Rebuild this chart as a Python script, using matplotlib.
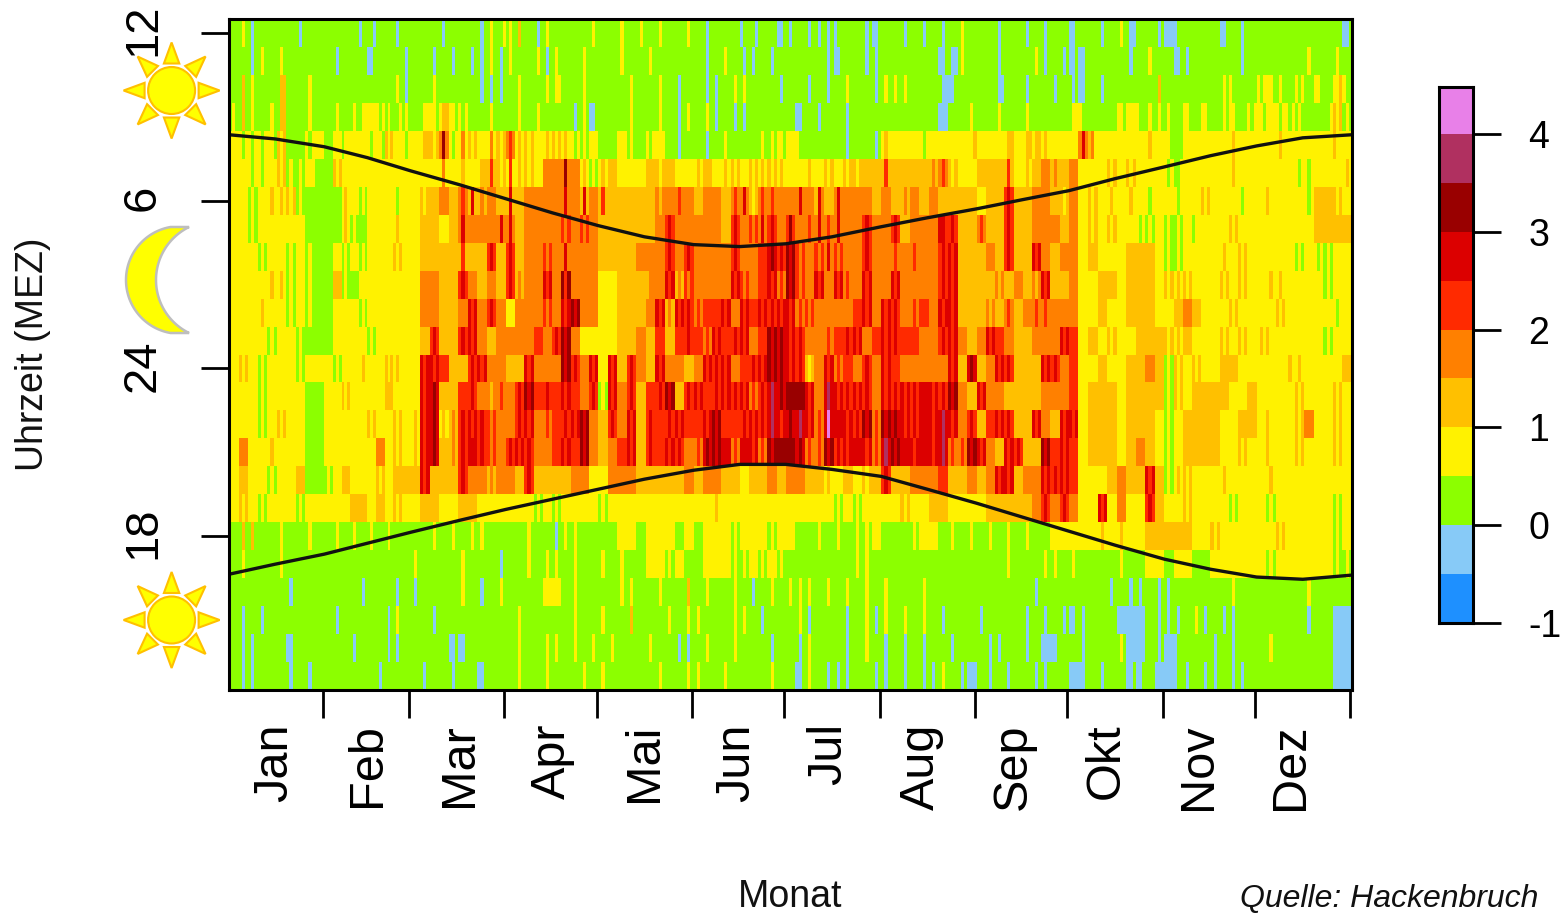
import matplotlib
matplotlib.use('Agg')
import matplotlib.pyplot as plt
import numpy as np
from matplotlib.colors import ListedColormap, BoundaryNorm
from matplotlib.patches import Circle, Polygon
from matplotlib.transforms import ScaledTranslation

plt.rcParams['font.family'] = ['Liberation Sans', 'DejaVu Sans']

monate = ['Jan', 'Feb', 'Mar', 'Apr', 'Mai', 'Jun', 'Jul', 'Aug', 'Sep', 'Okt', 'Nov', 'Dez']
monatstage = [31, 28, 31, 30, 31, 30, 31, 31, 30, 31, 30, 31]
monat_label_tag = [15, 45, 75, 105, 135, 165, 195, 225, 255, 285, 315, 345]

farben = ['#1E90FF', '#87CAF7', '#8CFF00', '#FFF200', '#FFC000', '#FF8000',
          '#FF2A00', '#DC0000', '#990000', '#B03060', '#E880E8']
stufen = [-1, -0.5, 0, 0.5, 1, 1.5, 2, 2.5, 3, 3.5, 4, 4.5]
cb_ticks = [-1, 0, 1, 2, 3, 4]

stunden_ticks = [0, 6, 12, 18]
stunden_labels = ['12', '6', '24', '18']

# je Zeile (von 12 Uhr abwaerts) 12 Monate mit je 30 Tageswerten, Ziffer = Farbstufe
klassen = [
    "222 232 212 222 222 222 222 212 222 222|222 222 222 222 122 221 222 222 212 222|222 222 222 212 222 222 222 212 232 223|232 242 222 212 232 222 222 222 222 232|222 222 232 222 232 222 232 222 222 232|222 212 222 222 222 122 221 222 222 112|212 222 212 212 212 122 222 222 212 112|222 222 212 222 212 222 212 222 232 222|222 222 212 222 222 212 222 212 222 222|112 222 222 212 222 232 211 222 222 212|111 122 222 222 222 222 112 222 212 222|222 222 222 222 222 222 222 222 222 112",  # 12
    "222 222 212 232 222 232 222 222 222 222|222 212 222 222 222 112 222 222 222 212|222 222 212 222 212 222 212 212 232 212|232 222 222 232 212 232 222 222 232 222|222 222 232 222 222 232 222 222 222 222|222 212 222 232 222 212 212 222 212 222|222 222 222 222 212 112 222 222 212 212|222 222 222 222 222 222 112 211 232 222|222 222 212 222 222 222 232 212 222 212|112 112 222 222 222 222 212 222 232 222|222 112 212 222 222 222 222 222 212 222|222 222 222 222 222 232 222 222 232 222",  # 11
    "222 242 232 222 222 244 222 222 232 222|222 222 222 222 222 222 222 222 232 212|222 222 232 222 222 222 222 212 212 212|222 232 222 222 232 233 222 222 232 222|222 222 222 232 222 222 232 222 212 222|222 212 212 222 232 232 222 222 222 212|222 222 212 222 212 222 232 222 222 212|232 232 232 222 222 222 211 112 222 222|222 222 211 222 222 212 222 222 212 222|212 112 222 212 222 222 222 222 222 242|222 222 222 222 222 222 232 322 222 222|323 332 232 222 323 222 332 222 334 322",  # 10
    "232 242 232 222 232 244 222 222 232 222|222 232 222 232 233 333 323 232 223 232|222 233 332 344 332 323 222 222 232 222|222 232 222 232 222 222 222 212 232 112|222 222 222 232 222 222 232 222 212 232|222 232 212 222 212 212 222 222 222 222|222 112 222 212 222 222 212 222 222 222|222 222 222 222 222 222 111 222 222 232|222 222 232 222 222 232 222 222 222 222|233 322 222 222 222 332 333 322 232 232|232 222 332 222 332 222 232 332 222 323|332 333 323 323 232 222 222 223 434 232",  # 9
    "333 323 323 323 332 434 222 222 323 333|222 333 233 333 333 323 332 434 333 323|333 344 434 585 323 353 434 333 353 434|565 343 434 333 343 434 343 323 232 333|222 222 333 232 222 323 333 222 212 222|222 212 222 232 222 222 222 232 232 332|333 322 222 222 222 222 212 222 222 212|343 333 333 333 323 333 333 333 333 334|333 333 333 344 333 344 344 343 333 333|333 575 453 333 333 333 333 333 343 333|332 222 333 333 333 333 333 343 333 333|333 333 343 333 333 333 333 333 433 333",  # 8
    "333 333 323 323 333 434 232 232 333 222|222 434 333 333 333 333 333 333 333 333|333 333 333 353 333 343 333 344 464 434|363 343 434 333 555 555 585 555 343 232|343 444 333 333 333 444 434 444 333 333|343 444 333 343 434 333 434 343 434 343|333 333 343 333 434 333 434 434 444 444|464 444 444 444 444 454 565 434 333 333|444 444 444 464 333 343 444 555 454 444|555 333 333 333 434 333 434 333 333 333|323 223 333 333 333 333 333 343 333 333|333 333 333 333 323 323 333 333 333 343",  # 7
    "333 333 232 333 343 343 434 232 222 222|222 222 343 333 232 333 333 333 323 333|333 434 444 555 444 565 474 454 555 444|474 444 555 555 555 555 575 555 474 555|464 444 444 444 444 444 545 555 565 555|444 555 555 444 565 575 434 565 565 555|555 575 555 475 444 575 555 555 555 444|555 444 454 555 444 555 444 444 444 444|333 444 444 676 444 444 555 555 444 434|555 333 434 333 343 333 343 333 323 333|333 323 333 333 434 333 333 333 323 333|333 433 333 333 333 323 444 444 434 333",  # 6
    "333 333 232 333 333 333 333 333 222 222|222 222 343 232 222 333 333 333 343 333|333 444 444 333 444 575 555 555 555 575|575 444 555 555 555 555 656 555 656 555|444 444 444 444 444 444 555 676 555 555|555 555 555 444 676 555 656 575 676 555|686 555 565 575 565 575 555 555 676 555|555 676 444 555 555 555 776 676 444 444|565 444 444 676 444 444 555 555 555 444|555 333 434 333 434 333 333 323 232 333|232 232 333 233 333 333 333 434 333 333|333 333 333 333 333 333 444 444 444 444",  # 5
    "333 333 333 232 333 333 232 333 232 222|222 333 232 333 232 333 333 333 434 333|333 444 444 444 444 464 444 444 676 444|676 444 555 555 656 555 575 555 555 555|444 444 444 444 555 555 555 676 555 676|555 555 555 555 676 555 555 666 787 676|878 656 555 656 575 656 555 555 676 555|555 565 555 565 555 555 676 767 444 444|444 555 444 676 444 444 767 555 444 555|555 333 444 333 333 333 444 444 444 333|232 232 333 333 333 333 343 333 434 333|333 333 333 333 232 333 323 232 333 333",  # 4
    "333 333 333 333 343 343 232 333 232 222|222 444 232 222 333 333 333 333 333 333|333 555 555 444 444 676 555 444 555 444|676 454 555 555 767 555 868 555 555 555|333 333 444 444 444 455 555 767 454 656|555 555 555 555 767 656 555 666 767 565|878 656 555 767 555 767 565 555 767 555|555 767 555 555 555 555 676 767 444 444|444 444 545 444 555 444 545 767 444 444|555 333 333 444 444 333 444 444 444 333|434 343 434 333 333 333 434 333 434 333|333 343 343 333 333 333 333 232 333 333",  # 3
    "333 333 333 343 333 333 232 333 232 222|222 333 333 333 232 333 333 333 333 333|333 555 555 444 444 555 767 555 676 555|333 555 555 555 656 555 767 878 555 555|333 333 444 444 444 555 767 454 767 676|565 666 666 767 555 767 666 767 676 767|767 565 656 555 555 555 555 666 767 555|767 676 555 565 666 555 767 767 444 444|444 545 444 565 444 555 565 565 555 555|555 333 333 444 333 333 444 444 444 333|333 444 555 444 333 333 333 434 333 333|333 333 434 333 333 333 333 333 323 333",  # 2
    "333 333 333 333 232 333 333 232 222 222|222 333 333 333 333 232 333 333 333 333|333 444 676 444 444 676 767 555 444 555|555 555 555 666 555 676 878 555 333 333|333 333 444 444 555 444 666 444 666 676|666 565 767 666 676 767 555 666 878 787|767 676 555 555 565 666 676 767 555 666|767 676 666 666 555 555 676 767 555 444|555 767 666 555 444 444 555 555 555 767|666 333 444 333 434 333 333 444 444 444|434 343 444 333 333 333 434 333 434 333|343 433 333 333 333 333 333 232 333 333",  # 1
    "333 434 333 232 333 333 333 232 333 333|333 232 333 333 343 333 333 434 343 333|333 767 767 666 444 444 676 767 555 555|444 444 767 555 555 555 878 676 555 767|333 767 444 676 555 444 767 555 555 444|555 767 676 767 555 666 676 767 878 787|767 676 434 555 767 565 666 555 676 555|767 666 555 555 555 555 555 767 444 787|444 555 767 676 444 444 444 767 676 555|666 333 333 444 333 333 444 444 555 444|232 434 333 434 333 333 444 444 333 333|333 333 333 343 343 333 333 333 333 444",  # 24
    "333 333 333 232 333 333 333 333 222 222|333 333 434 333 333 333 333 444 333 333|333 767 787 444 444 666 676 555 545 565|555 676 878 666 676 666 767 666 555 676|232 767 555 676 444 666 676 878 444 676|767 666 676 767 676 767 565 676 797 787|888 888 767 555 797 767 676 767 676 555|767 676 767 676 777 767 676 878 555 444|767 555 555 444 444 444 444 555 555 555|666 333 444 444 444 333 444 444 444 444|232 434 333 444 444 444 444 333 333 444|333 333 333 333 434 333 333 333 434 333",  # 23
    "333 333 333 232 333 434 333 333 222 222|333 333 333 333 333 434 333 333 434 333|343 767 787 343 454 676 767 676 656 555|555 676 767 555 565 666 676 767 878 555|444 676 555 767 444 676 666 676 767 666|666 767 878 666 666 676 767 676 797 767|787 797 767 565 7a7 777 767 676 878 565|878 787 767 676 777 767 797 767 555 676|444 666 767 676 444 444 767 555 444 767|767 333 444 444 444 333 444 444 444 333|232 333 444 444 444 444 333 333 444 444|333 433 333 333 434 555 333 333 434 333",  # 22
    "333 555 333 333 343 333 333 333 222 222|333 333 333 333 333 333 555 333 434 333|343 767 787 444 454 676 777 676 656 555|676 767 676 555 555 666 767 666 878 555|444 555 666 767 444 676 666 767 676 555|565 787 878 777 565 777 767 565 878 888|888 787 565 565 878 676 767 777 767 565|797 878 777 767 777 767 797 565 565 878|767 555 444 767 676 444 444 878 666 767|666 333 444 444 444 333 444 555 444 333|232 333 444 444 444 444 333 333 434 333|333 433 333 333 434 333 333 333 434 333",  # 21
    "333 444 333 333 232 333 333 444 222 222|232 333 444 333 333 333 434 333 444 444|444 767 444 444 444 676 555 555 454 555|555 444 676 444 444 444 444 555 555 333|333 555 555 555 444 444 444 444 444 555|444 555 555 444 444 333 444 444 555 444|555 555 444 444 343 333 444 333 434 444|676 444 444 555 555 555 666 444 444 555|444 555 767 767 444 555 555 767 676 767|666 333 333 333 444 555 444 444 767 444|232 343 434 333 333 333 343 333 333 333|333 343 333 333 333 333 333 333 333 333",  # 20
    "333 434 333 232 333 333 333 232 333 333|333 333 333 444 444 333 444 333 434 333|333 444 444 333 333 444 444 333 333 333|333 333 333 232 333 232 333 333 333 333|232 333 333 333 333 333 333 333 333 333|333 333 343 333 333 333 333 333 333 333|333 333 333 333 333 232 333 232 333 333|333 333 434 333 333 444 444 333 333 333|333 444 444 444 444 444 555 676 555 676|555 333 333 767 333 555 333 333 676 444|333 333 434 333 333 333 333 232 333 333|333 232 333 333 333 333 333 333 232 333",  # 19
    "222 242 242 222 222 232 222 222 232 222|222 232 222 232 222 232 222 232 222 222|222 222 232 222 232 222 232 232 222 222|222 222 232 222 222 212 232 232 222 222|222 222 333 333 222 333 333 333 222 333|222 333 333 333 232 333 333 333 232 333|333 222 222 232 222 232 222 232 232 333|222 222 222 232 333 333 222 232 222 232|222 232 222 232 222 232 222 222 333 333|333 333 333 343 333 343 333 333 444 444|444 444 444 333 333 434 333 333 333 333|333 333 434 333 333 333 333 333 232 333",  # 18
    "222 232 222 222 222 232 222 222 222 222|222 222 222 222 222 222 222 222 222 222|232 222 222 222 222 232 222 222 222 212|222 222 232 222 232 232 222 232 222 222|232 222 232 222 222 333 333 232 333 222|222 333 333 333 232 232 333 232 333 232|222 222 222 222 222 222 222 232 232 222|222 222 222 222 222 222 222 222 222 222|222 222 222 232 222 222 222 232 232 222|232 222 222 222 222 232 222 222 333 333|222 333 333 222 222 333 333 333 333 333|333 232 333 333 333 333 333 333 232 232",  # 17
    "222 222 222 222 222 222 212 222 222 222|222 222 222 222 212 222 222 222 212 222|212 222 222 222 222 232 222 212 222 232|222 222 222 222 333 333 222 232 222 222|222 222 232 232 222 222 232 222 222 242|222 232 222 222 232 222 212 222 232 222|232 232 232 222 232 222 232 222 232 222|232 222 222 222 232 222 222 222 222 222|222 222 222 222 222 222 212 222 222 222|222 222 222 222 212 222 212 212 222 212|212 222 222 222 222 222 222 232 222 222|222 222 222 222 222 232 222 222 222 222",  # 16
    "222 212 222 212 222 222 222 222 222 222|222 212 222 222 222 222 222 212 232 222|222 222 212 222 222 222 222 222 222 222|222 232 222 222 222 222 222 232 222 222|232 222 222 242 222 222 222 232 222 232|232 222 222 222 232 232 222 212 222 222|222 232 212 222 222 222 212 222 232 212|232 222 232 222 232 222 212 222 222 222|212 222 222 222 222 212 222 212 222 212|112 212 222 222 222 111 111 111 222 212|212 212 222 232 212 222 212 212 222 222|222 222 222 222 222 212 222 222 111 111",  # 15
    "222 212 212 222 222 222 112 222 222 222|222 222 222 212 222 222 222 212 212 222|222 222 222 222 112 112 222 222 222 222|222 232 222 222 232 232 222 232 222 232|222 232 222 222 222 232 222 222 212 212|222 232 222 222 232 222 222 222 212 222|222 212 232 222 222 222 212 222 232 222|212 222 212 222 212 222 222 212 222 222|222 212 212 222 222 212 222 111 112 222|222 212 222 222 222 232 111 111 222 212|111 122 222 222 222 212 222 212 222 222|222 232 222 222 222 222 222 222 111 111",  # 14
    "222 212 212 222 222 222 212 222 212 222|222 222 222 222 222 222 212 222 222 222|222 212 222 222 212 222 222 112 222 222|222 232 222 222 232 222 222 222 232 222|232 222 222 222 222 222 232 222 222 232|232 222 222 232 222 222 222 222 232 222|222 112 232 222 212 212 212 222 222 212|212 222 212 222 212 212 232 222 212 111|222 212 222 212 222 222 212 212 222 222|111 112 222 212 222 222 112 112 222 111|111 122 212 222 212 212 222 212 212 222|222 222 222 222 222 222 222 222 111 111",  # 13
]

sonne_tag = [0, 15, 31, 45, 59, 75, 90, 105, 120, 135, 151, 166, 181, 196, 212, 227, 243, 258, 273, 288, 304, 319, 334, 349, 365]
aufgang = [8.36, 8.21, 7.93, 7.54, 7.07, 6.57, 6.07, 5.57, 5.11, 4.71, 4.43, 4.36, 4.46, 4.71, 5.07, 5.39, 5.71, 6.04, 6.36, 6.79, 7.21, 7.61, 7.96, 8.25, 8.36]
untergang = [16.64, 17.0, 17.36, 17.75, 18.14, 18.57, 18.96, 19.32, 19.68, 20.04, 20.36, 20.57, 20.57, 20.39, 20.14, 19.68, 19.18, 18.68, 18.18, 17.68, 17.18, 16.82, 16.54, 16.46, 16.61]

B, H = 1560, 914

def px_axes(links, oben, rechts, unten):
    return fig.add_axes([links / B, 1 - unten / H, (rechts - links) / B, (unten - oben) / H])

fig = plt.figure(figsize=(B / 100, H / 100), dpi=100)

# Hauptfeld
ax = px_axes(229, 19, 1352, 690)
cmap = ListedColormap(farben)
norm = BoundaryNorm(stufen, cmap.N)

werte = []
for zeile in klassen:
    bloecke = [''.join(b.split()) for b in zeile.split('|')]
    bloecke = [(b + b[-1] * 30)[:30] for b in bloecke]
    werte.append([stufen[int(c, 16)] + 0.25 for c in ''.join(bloecke)])
werte = np.array(werte)

grenzen = np.cumsum([0] + monatstage)
x_kanten = np.concatenate([np.linspace(grenzen[i], grenzen[i + 1], 30, endpoint=False)
                           for i in range(12)] + [[365]])
y_kanten = np.arange(25) - 0.5
ax.pcolormesh(x_kanten, y_kanten, werte, cmap=cmap, norm=norm, antialiased=False, rasterized=True)

ax.plot(sonne_tag, 12 - np.array(aufgang), color='#111111', lw=2.4)
ax.plot(sonne_tag, 36 - np.array(untergang), color='#111111', lw=2.4)

ax.set_xlim(0, 365)
ax.set_ylim(23.5, -0.5)
for s in ax.spines.values():
    s.set_linewidth(2.2)

ax.set_xticks(grenzen[1:] - 0.5)
ax.set_xticklabels([])
ax.tick_params(axis='x', which='major', length=20, width=2)
ax.set_xticks(monat_label_tag, minor=True)
ax.set_xticklabels(monate, minor=True, rotation=90, fontsize=35, va='top', ha='center')
ax.tick_params(axis='x', which='minor', length=0, pad=24)

ax.set_yticks(stunden_ticks)
ax.set_yticklabels(stunden_labels, rotation=90, fontsize=34, va='center', ha='right')
ax.tick_params(axis='y', length=20, width=2, pad=26)
hoch = ScaledTranslation(0, 3 / 100, fig.dpi_scale_trans)
for lab in ax.get_yticklabels():
    lab.set_transform(lab.get_transform() + hoch)

# Legende
cax = px_axes(1439, 87, 1473, 623)
cax.pcolormesh([0, 1], stufen, np.array(stufen[:-1]).reshape(-1, 1) + 0.25, cmap=cmap, norm=norm, antialiased=False)
cax.set_xlim(0, 1)
cax.set_ylim(-1, 4.48)
cax.set_xticks([])
cax.yaxis.tick_right()
cax.set_yticks(cb_ticks)
cax.set_yticklabels([str(t) for t in cb_ticks], fontsize=27, ha='left')
cax.tick_params(axis='y', length=20, width=2, pad=20)
for s in cax.spines.values():
    s.set_linewidth(2.2)

# Symbole und Beschriftung in Pixelkoordinaten
pax = fig.add_axes([0, 0, 1, 1], zorder=5)
pax.set_xlim(0, B)
pax.set_ylim(H, 0)
pax.axis('off')

def sonne(cx, cy):
    pax.add_patch(Circle((cx, cy), 23.5, fc='#FFFF00', ec='#FFC000', lw=1.5))
    for w in np.deg2rad(np.arange(0, 360, 45)):
        r = np.array([np.cos(w), np.sin(w)])
        n = np.array([-r[1], r[0]])
        ecken = [(cx, cy) + r * 48, (cx, cy) + r * 27 + n * 7.7, (cx, cy) + r * 27 - n * 7.7]
        pax.add_patch(Polygon(ecken, closed=True, fc='#FFFF00', ec='#FFC000', lw=1.5))

sonne(171.6, 90.5)
sonne(171.6, 620)

# Mond aus zwei Kreisboegen
w = np.arctan2(53, 189 - 179.8)
t = np.linspace(-w, w, 80)
aussen = np.column_stack([179.8 - 53.8 * np.cos(t), 280 + 53.8 * np.sin(t)])
w2 = np.arcsin(53 / 59)
t2 = np.linspace(w2, -w2, 80)
innen = np.column_stack([215 - 59 * np.cos(t2), 280 + 59 * np.sin(t2)])
pax.add_patch(Polygon(np.vstack([aussen, innen]), closed=True, fc='#FFFF00', ec='#BEBEBE', lw=1.8))

pax.text(790, 897, 'Monat', fontsize=27, ha='center', va='center', color='#111111')
pax.text(33, 354, 'Uhrzeit (MEZ)', fontsize=27, rotation=90, ha='center', va='center', color='#111111')
pax.text(1240, 914, 'Quelle: Hackenbruch', fontsize=23, style='italic', ha='left', va='bottom', color='#111111')

fig.savefig('out.png', dpi=100)
